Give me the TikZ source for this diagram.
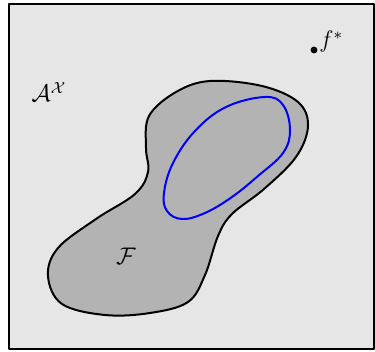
\documentclass[tikz,border=0pt]{standalone}
\usepackage{amsmath,amssymb}
\usepackage{xcolor}
\usepackage{tikz}
\definecolor{spacegray}{RGB}{230,230,230}
\definecolor{setgray}{RGB}{179,179,179}

\begin{document}
\begin{tikzpicture}[x=0.5pt, y=-0.5pt, line join=round]

\useasboundingbox (0,0) rectangle (375,352);

% 1. Ambient space A^X
\draw[line width=1pt, fill=spacegray] (9,4) rectangle (374,349);
\node[font=\large] (space) at (49,92) {$\mathcal{A}^{\mathcal{X}}$};

% 2. Set F (gray blob)
\draw[line width=1pt, fill=setgray] plot[smooth cycle, tension=0.6] coordinates {
  (149,116) (176,92) (210,81) (262,86) (298,102) (308,126) (296,157)
  (264,189) (232,214) (218,236) (205,275) (188,302) (150,313) (105,315)
  (62,304) (48,276) (58,248) (96,219) (135,194) (148,172) (146,148)};
\node[font=\large] (setF) at (126,256) {$\mathcal{F}$};

% 3. Inner blue curve
\draw[line width=1pt, blue] plot[smooth cycle, tension=0.65] coordinates {
  (265,97) (283,105) (290,130) (283,153) (258,176) (232,197)
  (205,213) (182,219) (167,211) (164,193) (173,163) (195,131) (226,107)};

% 4. Target f^*
\fill (314,50) circle (1.7pt) coordinate (fstar);
\node[anchor=west, inner sep=1pt, font=\large] (fstarlabel) at (317,42) {$f^*$};

\end{tikzpicture}
\end{document}
